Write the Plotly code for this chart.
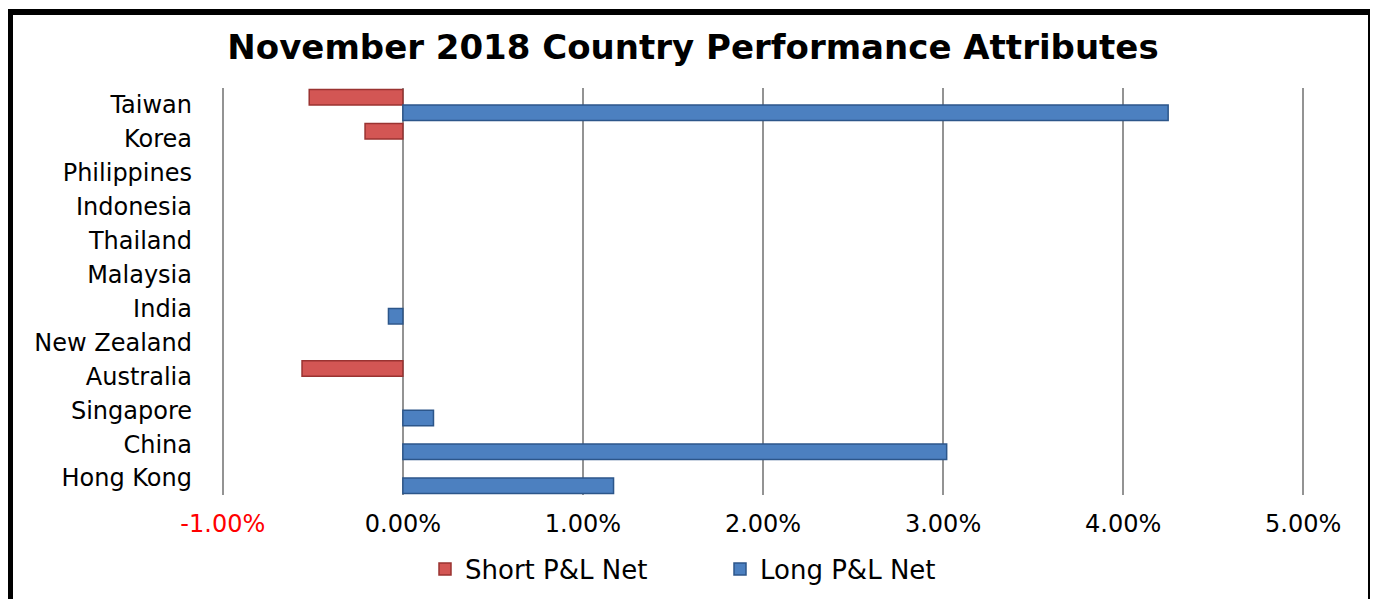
import plotly.graph_objects as go

# ───────── data ─────────
countries = ["Taiwan", "Korea", "Philippines", "Indonesia", "Thailand", "Malaysia",
             "India", "New Zealand", "Australia", "Singapore", "China", "Hong Kong"]
short_pl = [-0.0052, -0.0021, None, None, None, None,
            None, None, -0.0056, None, None, None]
long_pl = [0.0425, None, None, None, None, None,
           -0.0008, None, None, 0.0017, 0.0302, 0.0117]

tick_vals = [-0.01, 0.0, 0.01, 0.02, 0.03, 0.04, 0.05]
tick_text = ["<span style='color:#FF0000'>-1.00%</span>", "0.00%", "1.00%",
             "2.00%", "3.00%", "4.00%", "5.00%"]

# page body has an 8px margin, so work in (reference px - 8)
OFF = 8
W, H = 1378 - OFF, 599 - OFF
L, T = 221 - OFF, 88 - OFF
R = W - (1305 - OFF)
B = H - (495 - OFF)

fig = go.Figure()

fig.add_trace(go.Bar(
    y=countries, x=short_pl, orientation="h", name="Short P&L Net",
    marker=dict(color="#D35654", line=dict(color="#9A3331", width=1.5)),
))
fig.add_trace(go.Bar(
    y=countries, x=long_pl, orientation="h", name="Long P&L Net",
    marker=dict(color="#4C80C0", line=dict(color="#2C568A", width=1.5)),
))

# black frame around the chart (like the pasted Excel chart)
pw, ph = W - L - R, H - T - B
def px_x(p):
    return (p - OFF - L) / pw
def px_y(p):
    return (H - B - (p - OFF)) / ph
fig.add_shape(type="rect", xref="paper", yref="paper",
              x0=px_x(10), x1=px_x(1371), y0=px_y(640), y1=px_y(12),
              line=dict(color="black", width=6), fillcolor="rgba(0,0,0,0)", layer="above")

fig.update_layout(
    width=W, height=H,
    paper_bgcolor="white", plot_bgcolor="white",
    margin=dict(l=L, r=R, t=T, b=B, autoexpand=False),
    barmode="group", bargap=0.09, bargroupgap=0.0,
    font=dict(family="DejaVu Sans", color="black"),
    title=dict(
        text="<b>November 2018 Country Performance Attributes</b>",
        font=dict(family="DejaVu Sans", size=34, color="black"),
        x=0.5, xref="container", xanchor="center",
        y=1 - (47 - OFF) / H, yref="container", yanchor="middle",
    ),
    legend=dict(
        orientation="h", x=(720 - OFF) / W, xref="container", xanchor="center",
        y=1 - (569 - OFF) / H, yref="container", yanchor="middle",
        font=dict(size=26), itemwidth=30, traceorder="normal",
        entrywidth=250, entrywidthmode="pixels",
    ),
    showlegend=True,
)

fig.update_xaxes(
    range=[-0.0101, 0.0501], tickvals=tick_vals, ticktext=tick_text,
    showgrid=True, gridcolor="#939393", gridwidth=1.5,
    zeroline=False, showline=False, ticks="",
    tickfont=dict(size=24), ticklabelstandoff=12,
)
fig.update_yaxes(
    categoryorder="array", categoryarray=countries, autorange="reversed",
    showgrid=False, zeroline=False, showline=False, ticks="",
    tickfont=dict(size=24), ticklabelstandoff=28,
)

fig.write_html("out.html")
